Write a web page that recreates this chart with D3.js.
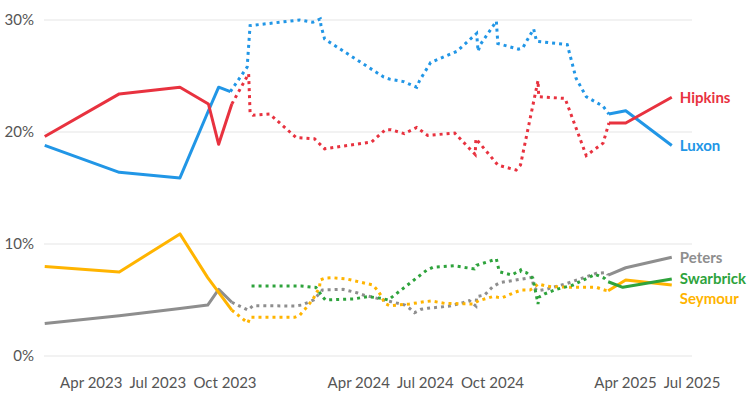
<!DOCTYPE html>
<html>
<head>
<meta charset="utf-8">
<script src="https://cdn.jsdelivr.net/npm/d3@7"></script>
<style>
	body { margin: 0; background: #fff; }
	svg text { font-family: Lato, "Open Sans", sans-serif; }
</style>
</head>
<body>
<div id="chart-area"></div>
<script>
// Preferred PM polling, New Zealand
const leaders = ["Luxon", "Hipkins", "Peters", "Seymour", "Swarbrick"];
const leaderColors = ["#2196e6", "#e8323f", "#8e8e8e", "#ffb400", "#2ea33c"];

const yTicks = [0, 10, 20, 30];
const xTicks = ["2023-04-01", "2023-07-01", "2023-10-01", "2024-04-01", "2024-07-01", "2024-10-01", "2025-04-01", "2025-07-01"];

// solid up to this date, dotted between, solid again from the second date
const solidUntil = "2023-10-12";
const solidFrom = "2025-03-08";

const hipkins = [
	["2023-01-28", 19.6], ["2023-05-10", 23.4], ["2023-08-01", 24.0], ["2023-09-09", 22.5],
	["2023-09-23", 18.9], ["2023-10-11", 22.5],
	["2023-11-03", 25.2], ["2023-11-05", 21.7], ["2023-11-09", 21.5], ["2023-12-02", 21.6],
	["2024-01-07", 19.5], ["2024-02-01", 19.4], ["2024-02-15", 18.5], ["2024-04-19", 19.1],
	["2024-05-08", 20.2], ["2024-05-16", 20.2], ["2024-06-03", 19.85], ["2024-06-20", 20.4],
	["2024-07-05", 19.7], ["2024-08-11", 19.9], ["2024-09-05", 18.2], ["2024-09-08", 18.0],
	["2024-09-09", 19.4], ["2024-10-09", 17.05], ["2024-11-03", 16.6], ["2024-11-09", 17.05],
	["2024-12-03", 24.6], ["2024-12-04", 23.15], ["2025-01-09", 23.0], ["2025-02-07", 17.9],
	["2025-03-02", 19.0], ["2025-03-10", 20.8],
	["2025-04-02", 20.8], ["2025-06-04", 23.1]
];

const luxon = [
	["2023-01-28", 18.8], ["2023-05-10", 16.4], ["2023-08-01", 15.9], ["2023-09-09", 21.9],
	["2023-09-23", 24.0], ["2023-10-09", 23.6],
	["2023-11-01", 25.8], ["2023-11-05", 29.5], ["2024-01-12", 30.0], ["2024-01-30", 29.8],
	["2024-02-09", 30.1], ["2024-02-10", 29.5], ["2024-02-15", 28.3], ["2024-05-06", 24.9],
	["2024-05-15", 24.7], ["2024-06-02", 24.5], ["2024-06-20", 24.0], ["2024-06-24", 24.6],
	["2024-07-09", 26.2], ["2024-08-14", 27.2], ["2024-09-10", 28.8], ["2024-09-12", 27.2],
	["2024-09-15", 27.8], ["2024-10-07", 29.9], ["2024-10-09", 27.9], ["2024-11-06", 27.4],
	["2024-11-12", 27.5], ["2024-11-27", 29.2], ["2024-12-01", 28.1], ["2025-01-12", 27.8],
	["2025-01-24", 24.8], ["2025-02-07", 23.15], ["2025-03-02", 22.3], ["2025-03-10", 21.6],
	["2025-04-02", 21.9], ["2025-06-04", 18.8]
];

const peters = [
	["2023-01-28", 2.9], ["2023-05-10", 3.6], ["2023-08-01", 4.25], ["2023-09-08", 4.55],
	["2023-09-23", 5.95], ["2023-10-11", 4.8],
	["2023-11-02", 4.1], ["2023-11-09", 4.5], ["2024-01-05", 4.46], ["2024-01-15", 4.55],
	["2024-01-31", 5.0], ["2024-02-12", 5.9], ["2024-03-11", 5.95], ["2024-03-30", 5.65],
	["2024-04-08", 5.45], ["2024-04-18", 5.3], ["2024-05-06", 5.0], ["2024-05-16", 4.85],
	["2024-06-04", 4.55], ["2024-06-10", 4.26], ["2024-06-17", 3.87], ["2024-06-26", 4.17],
	["2024-07-05", 4.26], ["2024-08-04", 4.46], ["2024-08-22", 4.76], ["2024-08-31", 4.94],
	["2024-09-09", 4.46], ["2024-09-10", 5.3], ["2024-09-21", 5.45], ["2024-10-02", 6.19],
	["2024-10-12", 6.55], ["2024-11-25", 7.02], ["2024-11-27", 6.13], ["2024-12-02", 5.83],
	["2024-12-14", 5.95], ["2025-01-12", 6.49], ["2025-02-21", 7.38], ["2025-03-07", 7.44],
	["2025-03-09", 7.23], ["2025-04-02", 7.88], ["2025-06-04", 8.81]
];

const seymour = [
	["2023-01-28", 8.0], ["2023-05-10", 7.5], ["2023-08-01", 10.9], ["2023-09-08", 7.0],
	["2023-10-11", 4.1],
	["2023-11-02", 2.95], ["2023-11-05", 3.45], ["2024-01-05", 3.45], ["2024-01-12", 3.66],
	["2024-01-19", 4.17], ["2024-01-30", 5.06], ["2024-02-08", 6.13], ["2024-02-09", 6.79],
	["2024-02-16", 6.96], ["2024-02-26", 6.99], ["2024-03-16", 6.88], ["2024-04-21", 6.34],
	["2024-04-28", 5.83], ["2024-05-03", 5.3], ["2024-05-07", 4.7], ["2024-05-14", 4.49],
	["2024-06-10", 4.64], ["2024-07-01", 4.85], ["2024-07-10", 4.91], ["2024-07-28", 4.7],
	["2024-09-05", 4.64], ["2024-09-13", 4.94], ["2024-10-02", 5.3], ["2024-10-09", 5.24],
	["2024-10-15", 5.2], ["2024-11-01", 5.68], ["2024-11-10", 5.89], ["2024-11-22", 5.89],
	["2024-11-28", 6.13], ["2024-12-03", 6.43], ["2024-12-12", 6.28], ["2024-12-21", 6.19],
	["2025-01-22", 6.13], ["2025-02-21", 6.13], ["2025-03-04", 5.89], ["2025-03-09", 5.83],
	["2025-04-02", 6.79], ["2025-06-04", 6.34]
];

const swarbrick = [
	["2023-11-07", 6.25], ["2024-01-14", 6.25], ["2024-01-23", 6.19], ["2024-02-03", 6.13],
	["2024-02-12", 5.3], ["2024-02-16", 5.0], ["2024-03-25", 5.09], ["2024-04-14", 5.3],
	["2024-05-03", 5.15], ["2024-05-12", 5.0], ["2024-07-04", 7.68], ["2024-07-12", 7.92],
	["2024-08-10", 8.06], ["2024-09-07", 7.77], ["2024-09-10", 8.1], ["2024-10-07", 8.66],
	["2024-10-11", 7.53], ["2024-10-28", 7.23], ["2024-11-09", 7.68], ["2024-11-10", 7.53],
	["2024-11-17", 7.44], ["2024-11-26", 6.94], ["2024-12-03", 4.64], ["2024-12-04", 5.24],
	["2024-12-12", 5.54], ["2024-12-28", 5.95], ["2025-01-20", 6.34], ["2025-02-05", 6.85],
	["2025-02-19", 7.29], ["2025-03-04", 6.94], ["2025-03-09", 6.63],
	["2025-03-29", 6.13], ["2025-06-04", 6.88]
];

const seriesValues = [luxon, hipkins, peters, seymour, swarbrick];

const parseDate = d3.timeParse("%Y-%m-%d");

const drawChart = () => {
	let svg = d3.select("#chart-area")
		.append("svg")
			.attr("width", 756)
			.attr("height", 399);

	let x = d3.scaleTime()
		.domain([parseDate("2023-01-27"), parseDate("2025-07-01")])
		.range([44, 691.5]);

	let y = d3.scaleLinear()
		.domain([0, 30])
		.range([356, 20]);

	// gridlines
	svg.append("g")
		.selectAll("line")
		.data(yTicks)
		.enter()
		.append("line")
			.attr("x1", 44)
			.attr("x2", 692)
			.attr("y1", (d) => y(d))
			.attr("y2", (d) => y(d))
			.attr("stroke", "#e5e5e5")
			.attr("stroke-width", 1);

	// Y axis
	let yAxis = d3.axisLeft(y)
		.tickValues(yTicks)
		.tickSize(0)
		.tickPadding(0)
		.tickFormat((d) => d + "%");
	let yG = svg.append("g")
		.attr("transform", "translate(34,0)")
		.call(yAxis);
	yG.select(".domain").remove();
	yG.selectAll("text")
		.attr("font-size", "15px")
		.attr("fill", "#555")
		.style("font-family", "Lato, sans-serif");

	// X axis
	let xAxis = d3.axisBottom(x)
		.tickValues(xTicks.map(parseDate))
		.tickSize(0)
		.tickPadding(0)
		.tickFormat(d3.timeFormat("%b %Y"));
	let xG = svg.append("g")
		.attr("transform", "translate(0,377)")
		.call(xAxis);
	xG.select(".domain").remove();
	xG.selectAll("text")
		.attr("font-size", "15px")
		.attr("fill", "#555")
		.style("font-family", "Lato, sans-serif");

	let line = d3.line()
		.x((d) => x(d[0]))
		.y((d) => y(d[1]));

	let cutA = parseDate(solidUntil);
	let cutB = parseDate(solidFrom);

	// draw order: back to front
	let order = [2, 3, 4, 0, 1];
	order.forEach((i) => {
		let pts = seriesValues[i].map((d) => [parseDate(d[0]), d[1]]);
		let early = pts.filter((d) => d[0] <= cutA);
		let late = pts.filter((d) => d[0] >= cutB);
		let mid = pts.filter((d) => d[0] > cutA && d[0] < cutB);
		if (early.length) mid.unshift(early[early.length - 1]);
		if (late.length) mid.push(late[0]);

		let g = svg.append("g");
		[early, late].forEach((seg) => {
			if (seg.length < 2) return;
			g.append("path")
				.attr("d", line(seg))
				.attr("fill", "none")
				.attr("stroke", leaderColors[i])
				.attr("stroke-width", 3)
				.attr("stroke-linejoin", "round");
		});
		g.append("path")
			.attr("d", line(mid))
			.attr("fill", "none")
			.attr("stroke", leaderColors[i])
			.attr("stroke-width", 3)
			.attr("stroke-dasharray", "3,4");
	});

	// end labels, pushed apart where they collide
	let labels = leaders.map((name, i) => {
		let last = seriesValues[i][seriesValues[i].length - 1];
		return {name: name, color: leaderColors[i], ly: y(last[1]), x: x(parseDate(last[0]))};
	}).sort((a, b) => a.ly - b.ly);
	for (let k = 1; k < labels.length; k++) {
		if (labels[k].ly - labels[k - 1].ly < 19.5) labels[k].ly = labels[k - 1].ly + 19.5;
	}

	svg.append("g")
		.selectAll("text")
		.data(labels)
		.enter()
		.append("text")
			.attr("x", (d) => d.x + 8)
			.attr("y", (d) => d.ly)
			.attr("dy", "0.35em")
			.attr("font-size", "15px")
			.attr("font-weight", "bold")
			.attr("fill", (d) => d.color)
			.text((d) => d.name);
};

drawChart();
</script>
</body>
</html>
